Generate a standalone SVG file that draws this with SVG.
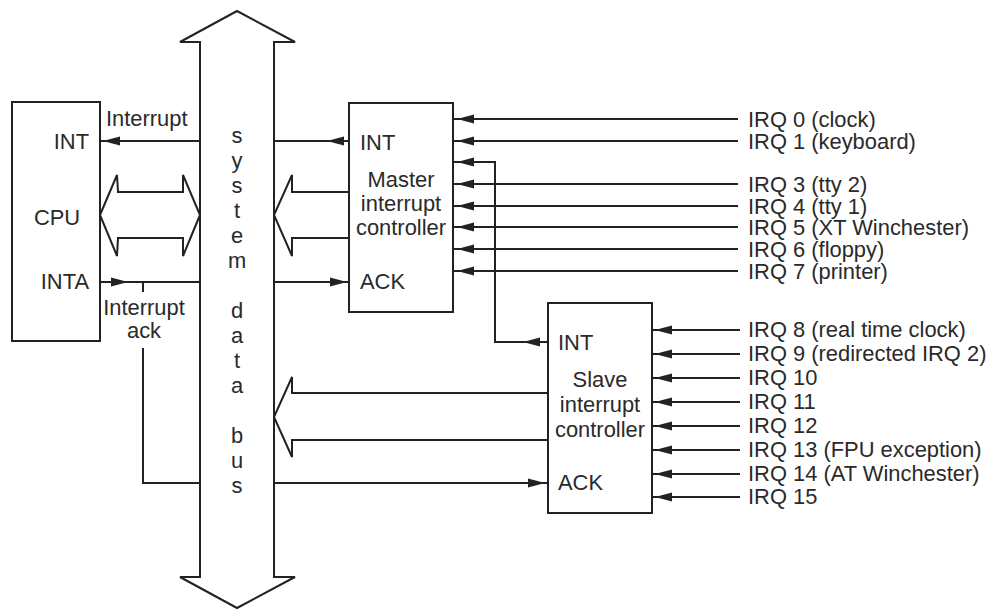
<svg xmlns="http://www.w3.org/2000/svg" xmlns:xlink="http://www.w3.org/1999/xlink" width="991" height="610" viewBox="0 0 991 610">
<style>
.ln{fill:none;stroke:#222;stroke-width:2}
.box{fill:#fff;stroke:#222;stroke-width:2}
.t{font-family:"Liberation Sans",Arial,sans-serif;font-size:21.9px;fill:#2a2a2a}
.c{text-anchor:middle}
.ah{fill:#222}
</style>
<defs>
<path id="ahL" d="M0,0 L17,-4.5 L17,4.5 Z"/>
<path id="ahR" d="M0,0 L-17,-4.5 L-17,4.5 Z"/>
</defs>
<rect width="991" height="610" fill="#fff"/>

<g id="bus">
<polygon class="box" points="237,11 295,42 274,42 274,577 295,577 237,608 180,577 200,577 200,42 180,42"/>
<g class="t c">
<text x="237" y="143">s</text><text x="237" y="168">y</text><text x="237" y="193">s</text><text x="237" y="218">t</text><text x="237" y="243">e</text><text x="237" y="268">m</text>
<text x="237" y="318">d</text><text x="237" y="343">a</text><text x="237" y="368">t</text><text x="237" y="393">a</text>
<text x="237" y="443">b</text><text x="237" y="468">u</text><text x="237" y="493">s</text>
</g>
</g>

<g id="cpu">
<rect class="box" x="12" y="102" width="88" height="239"/>
<text class="t" x="89" y="149" text-anchor="end">INT</text>
<text class="t c" x="57" y="225">CPU</text>
<text class="t" x="89" y="289" text-anchor="end">INTA</text>
</g>

<g id="master">
<rect class="box" x="349" y="103" width="104" height="209"/>
<text class="t" x="360" y="150">INT</text>
<text class="t c" x="401" y="187">Master</text>
<text class="t c" x="401" y="211">interrupt</text>
<text class="t c" x="401" y="235">controller</text>
<text class="t" x="360" y="289">ACK</text>
</g>

<g id="slave">
<rect class="box" x="548" y="303" width="104" height="210"/>
<text class="t" x="558" y="350">INT</text>
<text class="t c" x="600" y="387">Slave</text>
<text class="t c" x="600" y="412">interrupt</text>
<text class="t c" x="600" y="437">controller</text>
<text class="t" x="558" y="490">ACK</text>
</g>

<g id="connectors">
<polygon class="ln" points="100,215 117,175 118,192 183,192 183,175 200,215 183,256 183,238 118,238 117,256" style="fill:#fff"/>
<line class="ln" x1="100" y1="141" x2="200" y2="141"/>
<use class="ah" href="#ahL" xlink:href="#ahL" transform="translate(103,141)"/>
<text class="t" x="106" y="126">Interrupt</text>
<line class="ln" x1="100" y1="282" x2="200" y2="282"/>
<use class="ah" href="#ahR" xlink:href="#ahR" transform="translate(128,282)"/>
<line class="ln" x1="143" y1="282" x2="143" y2="292"/>
<polyline class="ln" points="143,348 143,483 200,483"/>
<text class="t c" x="144" y="315">Interrupt</text>
<text class="t c" x="144" y="338">ack</text>
<line class="ln" x1="274" y1="141" x2="349" y2="141"/>
<use class="ah" href="#ahL" xlink:href="#ahL" transform="translate(327,141)"/>
<polyline class="ln" points="349,192 292,192 292,175 274,215 292,256 292,238 349,238"/>
<line class="ln" x1="274" y1="282" x2="349" y2="282"/>
<use class="ah" href="#ahR" xlink:href="#ahR" transform="translate(347,282)"/>
<polyline class="ln" points="548,393 292,393 292,377 274,417 292,457 292,440 548,440"/>
<line class="ln" x1="274" y1="483" x2="548" y2="483"/>
<use class="ah" href="#ahR" xlink:href="#ahR" transform="translate(545,483)"/>
<polyline class="ln" points="548,342 495,342 495,162 453,162"/>
<use class="ah" href="#ahL" xlink:href="#ahL" transform="translate(523,342)"/>
<use class="ah" href="#ahL" xlink:href="#ahL" transform="translate(457,162)"/>
<g>
<line class="ln" x1="453" y1="119" x2="738" y2="119"/><use class="ah" href="#ahL" xlink:href="#ahL" transform="translate(457,119)"/>
<line class="ln" x1="453" y1="141" x2="738" y2="141"/><use class="ah" href="#ahL" xlink:href="#ahL" transform="translate(457,141)"/>
<line class="ln" x1="453" y1="184" x2="738" y2="184"/><use class="ah" href="#ahL" xlink:href="#ahL" transform="translate(457,184)"/>
<line class="ln" x1="453" y1="206" x2="738" y2="206"/><use class="ah" href="#ahL" xlink:href="#ahL" transform="translate(457,206)"/>
<line class="ln" x1="453" y1="227" x2="738" y2="227"/><use class="ah" href="#ahL" xlink:href="#ahL" transform="translate(457,227)"/>
<line class="ln" x1="453" y1="249" x2="738" y2="249"/><use class="ah" href="#ahL" xlink:href="#ahL" transform="translate(457,249)"/>
<line class="ln" x1="453" y1="271" x2="738" y2="271"/><use class="ah" href="#ahL" xlink:href="#ahL" transform="translate(457,271)"/>
</g>
<g>
<line class="ln" x1="652" y1="330" x2="740" y2="330"/><use class="ah" href="#ahL" xlink:href="#ahL" transform="translate(655,330)"/>
<line class="ln" x1="652" y1="354" x2="740" y2="354"/><use class="ah" href="#ahL" xlink:href="#ahL" transform="translate(655,354)"/>
<line class="ln" x1="652" y1="378" x2="740" y2="378"/><use class="ah" href="#ahL" xlink:href="#ahL" transform="translate(655,378)"/>
<line class="ln" x1="652" y1="402" x2="740" y2="402"/><use class="ah" href="#ahL" xlink:href="#ahL" transform="translate(655,402)"/>
<line class="ln" x1="652" y1="426" x2="740" y2="426"/><use class="ah" href="#ahL" xlink:href="#ahL" transform="translate(655,426)"/>
<line class="ln" x1="652" y1="450" x2="740" y2="450"/><use class="ah" href="#ahL" xlink:href="#ahL" transform="translate(655,450)"/>
<line class="ln" x1="652" y1="474" x2="740" y2="474"/><use class="ah" href="#ahL" xlink:href="#ahL" transform="translate(655,474)"/>
<line class="ln" x1="652" y1="497" x2="740" y2="497"/><use class="ah" href="#ahL" xlink:href="#ahL" transform="translate(655,497)"/>
</g>
</g>

<g id="irq-labels" class="t">
<text x="748" y="127">IRQ 0 (clock)</text>
<text x="748" y="149">IRQ 1 (keyboard)</text>
<text x="748" y="192">IRQ 3 (tty 2)</text>
<text x="748" y="214">IRQ 4 (tty 1)</text>
<text x="748" y="235">IRQ 5 (XT Winchester)</text>
<text x="748" y="257">IRQ 6 (floppy)</text>
<text x="748" y="279">IRQ 7 (printer)</text>
<text x="748" y="337">IRQ 8 (real time clock)</text>
<text x="748" y="361">IRQ 9 (redirected IRQ 2)</text>
<text x="748" y="385">IRQ 10</text>
<text x="748" y="409">IRQ 11</text>
<text x="748" y="433">IRQ 12</text>
<text x="748" y="457">IRQ 13 (FPU exception)</text>
<text x="748" y="481">IRQ 14 (AT Winchester)</text>
<text x="748" y="504">IRQ 15</text>
</g>
</svg>
